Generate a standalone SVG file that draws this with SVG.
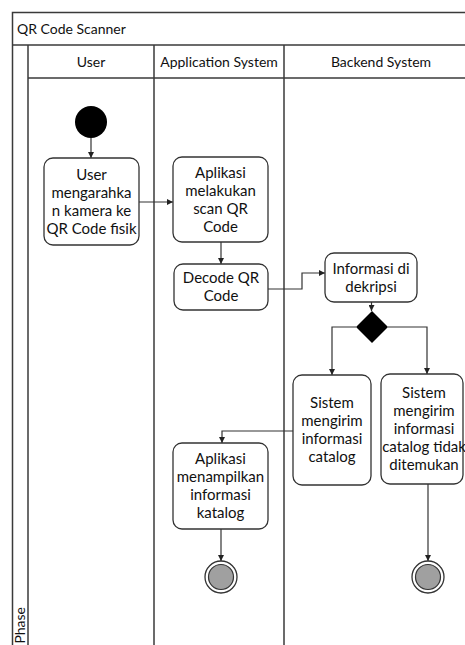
<svg xmlns="http://www.w3.org/2000/svg" width="465" height="645" viewBox="0 0 465 645">
  <style>
    .frame { fill: none; stroke: #3a3a3a; stroke-width: 1.5; }
    .lbl { font-family: Lato, "Liberation Sans", sans-serif; font-size: 14px; fill: #111; }
    .node rect { fill: #fff; stroke: #333; stroke-width: 1.3; }
    .node text { font-family: Lato, "Liberation Sans", sans-serif; font-size: 15px; fill: #111; text-anchor: middle; }
    .edge { fill: none; stroke: #333; stroke-width: 1.2; marker-end: url(#arrow); }
    .final-outer { fill: #fff; stroke: #333; stroke-width: 1.3; }
    .final-inner { fill: #a0a0a0; stroke: #333; stroke-width: 1.2; }
  </style>
  <defs>
    <marker id="arrow" viewBox="0 0 8 8" refX="8" refY="4" markerWidth="6" markerHeight="6" orient="auto" markerUnits="userSpaceOnUse">
      <path d="M0,0 L8,4 L0,8 z" fill="#222"/>
    </marker>
  </defs>

  <rect width="465" height="645" fill="#fff"/>

  <!-- swimlane pool -->
  <g id="pool">
    <path class="frame" d="M12.5,645 V12.5 H470"/>
    <line class="frame" x1="12.5" y1="45" x2="470" y2="45"/>
    <line class="frame" x1="28" y1="45" x2="28" y2="645"/>
    <line class="frame" x1="28" y1="78" x2="470" y2="78"/>
    <line class="frame" x1="154" y1="45" x2="154" y2="645"/>
    <line class="frame" x1="284" y1="45" x2="284" y2="645"/>
    <text class="lbl" x="17" y="34">QR Code Scanner</text>
    <text class="lbl" x="91" y="67" text-anchor="middle">User</text>
    <text class="lbl" x="219" y="67" text-anchor="middle">Application System</text>
    <text class="lbl" x="381" y="67" text-anchor="middle">Backend System</text>
    <text class="lbl" transform="translate(25,607) rotate(-90)" text-anchor="end">Phase</text>
  </g>

  <!-- connectors -->
  <g id="connectors">
    <path class="edge" d="M91,138 V158"/>
    <path class="edge" d="M139,202 H173"/>
    <path class="edge" d="M221,242 V264"/>
    <path class="edge" d="M268,289 H302 V273 H325"/>
    <path class="edge" d="M371.5,302 V311"/>
    <path class="edge" d="M356,327 H332 V375"/>
    <path class="edge" d="M388,327 H427 V374"/>
    <path class="edge" d="M293,431 H222 V443"/>
    <path class="edge" d="M221,529 V561"/>
    <path class="edge" d="M428,484 V561"/>
  </g>

  <!-- nodes -->
  <g id="start">
    <circle cx="91" cy="122" r="16" fill="#000"/>
  </g>

  <g id="user-aim" class="node">
    <rect x="44" y="158" width="95" height="87" rx="9"/>
    <text x="91.5" y="179.5">User</text>
    <text x="91.5" y="197.5">mengarahka</text>
    <text x="91.5" y="215.5">n kamera ke</text>
    <text x="91.5" y="233.5">QR Code fisik</text>
  </g>

  <g id="app-scan" class="node">
    <rect x="173" y="157" width="95" height="85" rx="9"/>
    <text x="220.5" y="177.5">Aplikasi</text>
    <text x="220.5" y="195.5">melakukan</text>
    <text x="220.5" y="213.5">scan QR</text>
    <text x="220.5" y="231.5">Code</text>
  </g>

  <g id="app-decode" class="node">
    <rect x="174" y="264" width="94" height="46" rx="9"/>
    <text x="221" y="283">Decode QR</text>
    <text x="221" y="301">Code</text>
  </g>

  <g id="backend-decrypt" class="node">
    <rect x="325" y="253" width="92" height="49" rx="9"/>
    <text x="371" y="273.5">Informasi di</text>
    <text x="371" y="291.5">dekripsi</text>
  </g>

  <g id="decision">
    <path d="M372,311 L388,327 L372,343 L356,327 z" fill="#000"/>
  </g>

  <g id="backend-found" class="node">
    <rect x="293" y="375" width="78" height="110" rx="9"/>
    <text x="332" y="408">Sistem</text>
    <text x="332" y="426">mengirim</text>
    <text x="332" y="444">informasi</text>
    <text x="332" y="462">catalog</text>
  </g>

  <g id="backend-notfound" class="node">
    <rect x="381" y="374" width="82" height="110" rx="9"/>
    <text x="424" y="398">Sistem</text>
    <text x="424" y="416">mengirim</text>
    <text x="424" y="434">informasi</text>
    <text x="424" y="452">catalog tidak</text>
    <text x="424" y="470">ditemukan</text>
  </g>

  <g id="app-show" class="node">
    <rect x="173" y="443" width="95" height="86" rx="9"/>
    <text x="220.5" y="464">Aplikasi</text>
    <text x="220.5" y="482">menampilkan</text>
    <text x="220.5" y="500">informasi</text>
    <text x="220.5" y="518">katalog</text>
  </g>

  <g id="end-found">
    <circle class="final-outer" cx="221" cy="577" r="16"/>
    <circle class="final-inner" cx="221" cy="577" r="12.5"/>
  </g>

  <g id="end-notfound">
    <circle class="final-outer" cx="428" cy="577" r="16"/>
    <circle class="final-inner" cx="428" cy="577" r="12.5"/>
  </g>
</svg>
